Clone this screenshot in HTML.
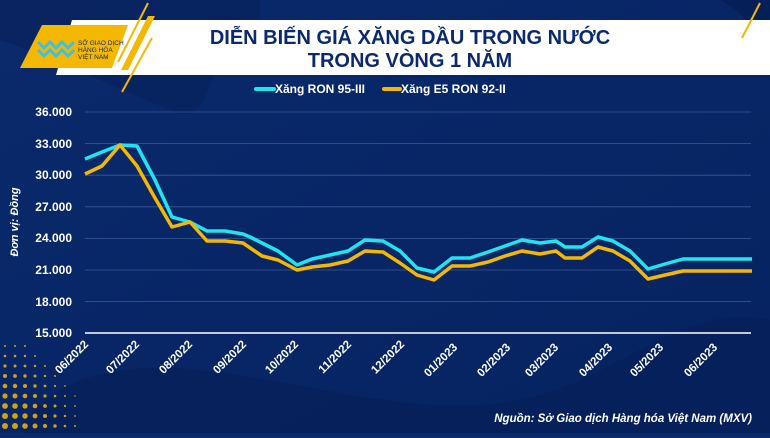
<!DOCTYPE html>
<html><head><meta charset="utf-8"><style>
body{margin:0;width:770px;height:433px;overflow:hidden;background:#0b2a6e;font-family:"Liberation Sans",sans-serif}
</style></head><body>
<svg width="770" height="433" viewBox="0 0 770 433" xmlns="http://www.w3.org/2000/svg" font-family="Liberation Sans, sans-serif">
<defs>
<linearGradient id="bg" x1="0" y1="0" x2="1" y2="1"><stop offset="0" stop-color="#0a2a6c"/><stop offset="1" stop-color="#062260"/></linearGradient>
<radialGradient id="dots" cx="0" cy="1" r="1"><stop offset="0" stop-color="#f5b800"/><stop offset="1" stop-color="#f5b800" stop-opacity="0"/></radialGradient>
</defs>
<rect width="770" height="433" fill="url(#bg)"/>
<path d="M0 40 C60 60 120 90 170 110 C220 135 200 40 260 20 L260 0 L0 0Z" fill="#08225a" opacity="0.6"/>
<path d="M20 433 C40 380 120 360 200 370 C300 380 420 420 520 400 C620 380 680 300 770 320 L770 433Z" fill="#052058" opacity="0.7"/>
<path d="M720 0 C760 20 770 60 770 80 L770 0Z" fill="#052058"/>
<g fill="#f5b800" opacity="0.85">
<circle cx="5" cy="346" r="1"/><circle cx="15" cy="346" r="1"/><circle cx="25" cy="346" r="1"/>
<circle cx="5" cy="356" r="1.3"/><circle cx="15" cy="356" r="1.3"/><circle cx="25" cy="356" r="1.2"/><circle cx="35" cy="356" r="1"/>
<circle cx="5" cy="366" r="1.6"/><circle cx="15" cy="366" r="1.5"/><circle cx="25" cy="366" r="1.4"/><circle cx="35" cy="366" r="1.2"/><circle cx="45" cy="366" r="1"/>
<circle cx="5" cy="376" r="2"/><circle cx="15" cy="376" r="1.9"/><circle cx="25" cy="376" r="1.7"/><circle cx="35" cy="376" r="1.5"/><circle cx="45" cy="376" r="1.2"/><circle cx="55" cy="376" r="1"/>
<circle cx="5" cy="386" r="2.3"/><circle cx="15" cy="386" r="2.2"/><circle cx="25" cy="386" r="2"/><circle cx="35" cy="386" r="1.7"/><circle cx="45" cy="386" r="1.4"/><circle cx="55" cy="386" r="1.1"/><circle cx="65" cy="386" r="0.9"/>
<circle cx="5" cy="396" r="2.6"/><circle cx="15" cy="396" r="2.5"/><circle cx="25" cy="396" r="2.3"/><circle cx="35" cy="396" r="2"/><circle cx="45" cy="396" r="1.6"/><circle cx="55" cy="396" r="1.3"/><circle cx="65" cy="396" r="1"/><circle cx="75" cy="396" r="0.8"/>
<circle cx="5" cy="406" r="2.9"/><circle cx="15" cy="406" r="2.8"/><circle cx="25" cy="406" r="2.6"/><circle cx="35" cy="406" r="2.3"/><circle cx="45" cy="406" r="1.9"/><circle cx="55" cy="406" r="1.5"/><circle cx="65" cy="406" r="1.1"/><circle cx="75" cy="406" r="0.9"/>
<circle cx="5" cy="416" r="3"/><circle cx="15" cy="416" r="2.9"/><circle cx="25" cy="416" r="2.7"/><circle cx="35" cy="416" r="2.4"/><circle cx="45" cy="416" r="2"/><circle cx="55" cy="416" r="1.6"/><circle cx="65" cy="416" r="1.2"/><circle cx="75" cy="416" r="0.9"/>
<circle cx="5" cy="426" r="3"/><circle cx="15" cy="426" r="3"/><circle cx="25" cy="426" r="2.8"/><circle cx="35" cy="426" r="2.5"/><circle cx="45" cy="426" r="2.1"/><circle cx="55" cy="426" r="1.7"/><circle cx="65" cy="426" r="1.3"/><circle cx="75" cy="426" r="1"/>
</g>
<!-- header -->
<polygon points="72,20 770,20 770,75 56,75" fill="#ffffff"/>
<polygon points="42,25 128,25 112,68 20,68" fill="#f5b800"/>
<line x1="148" y1="3" x2="118" y2="62" stroke="#f5b800" stroke-width="2"/>
<polygon points="148,16 155,16 128,70 121,70" fill="#f5b800"/>
<line x1="152" y1="38" x2="122" y2="92" stroke="#f5b800" stroke-width="2"/>
<line x1="760" y1="3" x2="742" y2="38" stroke="#f5b800" stroke-width="2"/>
<polygon points="770,20 770,40 760,60" fill="#f5b800" opacity="0"/>
<g stroke="#3cc0e8" stroke-width="3" fill="none">
<path d="M38 42 l6 6 l6 -6 l6 6 l6 -6 l6 6 l6 -6"/>
<path d="M38 50 l6 6 l6 -6 l6 6 l6 -6 l6 6 l6 -6"/>
</g>
<text x="78" y="45" font-size="6.5" fill="#0b2a6e">SỞ GIAO DỊCH</text>
<text x="78" y="52" font-size="6.5" fill="#0b2a6e">HÀNG HÓA</text>
<text x="78" y="59" font-size="6.5" fill="#0b2a6e">VIỆT NAM</text>
<text x="410" y="44" font-size="20" font-weight="bold" fill="#0b2a6e" text-anchor="middle">DIỄN BIẾN GIÁ XĂNG DẦU TRONG NƯỚC</text>
<text x="410" y="67" font-size="20" font-weight="bold" fill="#0b2a6e" text-anchor="middle">TRONG VÒNG 1 NĂM</text>
<!-- legend -->
<line x1="256" y1="89" x2="274" y2="89" stroke="#20e4f0" stroke-width="4" stroke-linecap="round"/>
<text x="275" y="93" font-size="12" font-weight="bold" fill="#fff">Xăng RON 95-III</text>
<line x1="384" y1="89" x2="400" y2="89" stroke="#f5b800" stroke-width="4" stroke-linecap="round"/>
<text x="401" y="93" font-size="12" font-weight="bold" fill="#fff">Xăng E5 RON 92-II</text>
<!-- grid -->
<g stroke="#3a5a9a" stroke-width="0.8">
<line x1="85" y1="112" x2="751" y2="112"/><line x1="85" y1="143.6" x2="751" y2="143.6"/>
<line x1="85" y1="175.2" x2="751" y2="175.2"/><line x1="85" y1="206.8" x2="751" y2="206.8"/>
<line x1="85" y1="238.4" x2="751" y2="238.4"/><line x1="85" y1="270" x2="751" y2="270"/>
<line x1="85" y1="301.6" x2="751" y2="301.6"/>
</g>
<line x1="85" y1="333" x2="751" y2="333" stroke="#fff" stroke-width="1.5"/>
<g font-size="12" font-weight="bold" fill="#fff" text-anchor="end">
<text x="72" y="116">36.000</text><text x="72" y="148">33.000</text><text x="72" y="179">30.000</text>
<text x="72" y="211">27.000</text><text x="72" y="242">24.000</text><text x="72" y="274">21.000</text>
<text x="72" y="306">18.000</text><text x="72" y="337">15.000</text>
</g>
<text transform="translate(18,222) rotate(-90)" font-size="11" font-weight="bold" font-style="italic" fill="#fff" text-anchor="middle">Đơn vị: Đồng</text>
<g font-size="11.5" font-weight="bold" fill="#fff" text-anchor="end">
<text transform="translate(89,345) rotate(-45)">06/2022</text>
<text transform="translate(140,345) rotate(-45)">07/2022</text>
<text transform="translate(193,345) rotate(-45)">08/2022</text>
<text transform="translate(247,345) rotate(-45)">09/2022</text>
<text transform="translate(299,345) rotate(-45)">10/2022</text>
<text transform="translate(352,345) rotate(-45)">11/2022</text>
<text transform="translate(405,345) rotate(-45)">12/2022</text>
<text transform="translate(458,348) rotate(-45)">01/2023</text>
<text transform="translate(511,348) rotate(-45)">02/2023</text>
<text transform="translate(559,348) rotate(-45)">03/2023</text>
<text transform="translate(613,348) rotate(-45)">04/2023</text>
<text transform="translate(664,348) rotate(-45)">05/2023</text>
<text transform="translate(718,348) rotate(-45)">06/2023</text>
</g>
<polyline fill="none" stroke="#20e4f0" stroke-width="3.5" stroke-linejoin="round" points="85,159 102,152 120,145 137,146 155,180 172,217 190,222 207,231 225,231 243,234 250,237 262,243 278,251 297,265 312,259 330,255 348,251 365,240 383,241 400,251 417,268 434,272 452,258 470,258 488,252 505,246 522,240 540,243 556,241 565,247 582,247 598,237 613,241 630,251 648,269 665,264 683,259 700,259 752,259"/>
<polyline fill="none" stroke="#f5b800" stroke-width="3.5" stroke-linejoin="round" points="85,174 102,166 120,145 137,166 155,198 172,227 190,222 207,241 225,241 243,243 262,256 278,260 297,270 312,267 330,265 348,261 365,251 383,252 400,263 417,275 434,280 452,266 470,266 488,262 505,256 522,251 540,254 556,251 565,258 582,258 598,247 613,251 630,261 648,279 665,275 683,271 700,271 752,271"/>
<text x="752" y="422" font-size="11.5" font-weight="bold" font-style="italic" fill="#fff" text-anchor="end">Nguồn: Sở Giao dịch Hàng hóa Việt Nam (MXV)</text>
</svg>
</body></html>
